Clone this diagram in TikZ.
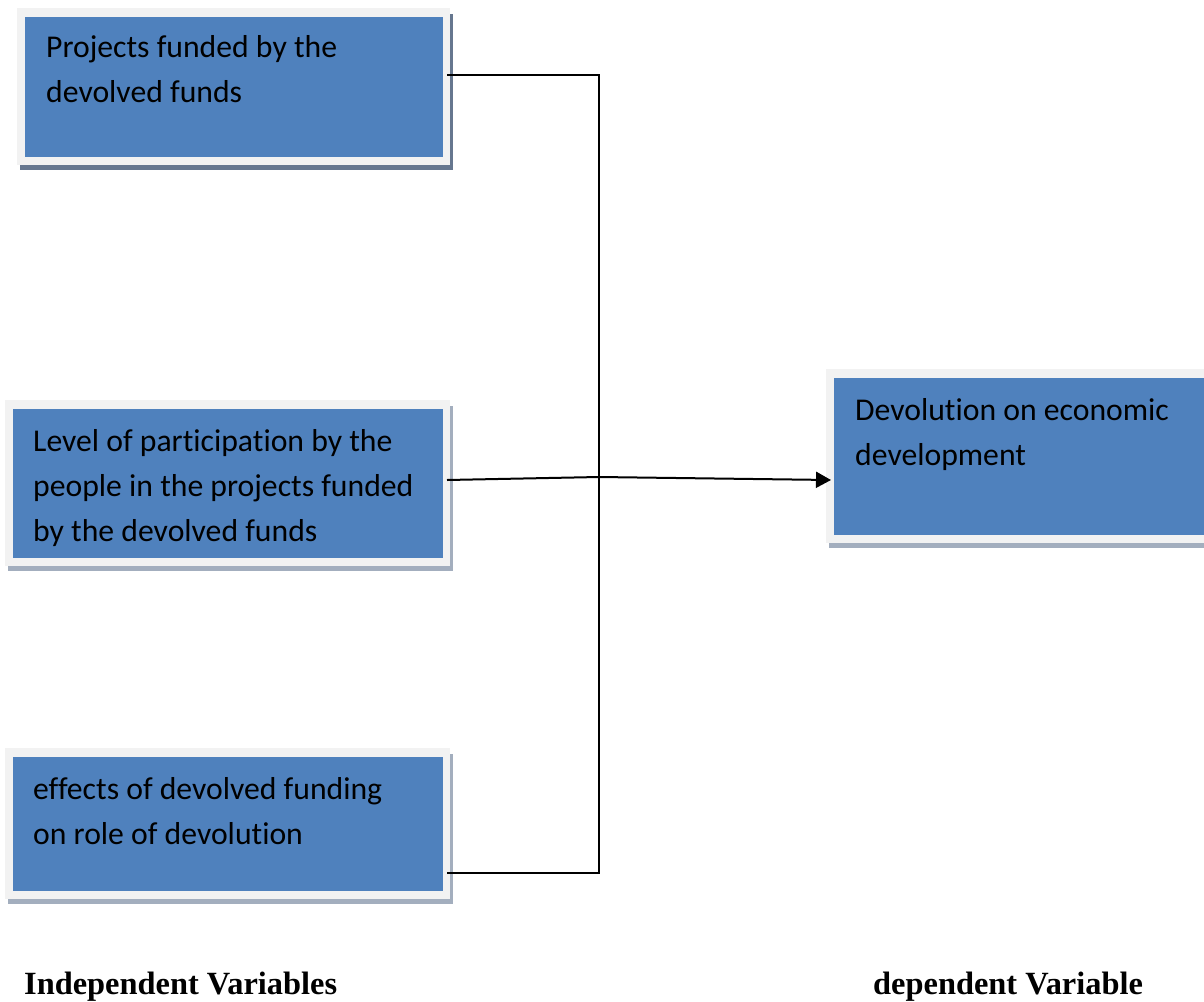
\documentclass[tikz,border=0pt]{standalone}
\usepackage{fontspec}
\setmainfont[Ligatures={NoCommon}]{Carlito}
\newfontfamily\tnr{Liberation Serif}
\usetikzlibrary{arrows.meta,backgrounds,calc}
\definecolor{boxblue}{HTML}{4F81BD}
\definecolor{framegray}{HTML}{F2F2F2}
\definecolor{shadowdark}{HTML}{66778F}
\definecolor{shadowlight}{HTML}{A3AEBE}
\tikzset{
  bluebox/.style={fill=boxblue, draw=none, anchor=north west, inner sep=0pt},
  boxtext/.style={anchor=base west, inner sep=0pt, align=left, font=\fontsize{31.7}{45}\selectfont, text=black},
  lbl/.style={anchor=base west, inner sep=0pt, font=\tnr\bfseries\fontsize{32.4}{38}\selectfont},
  conn/.style={line width=2pt, black},
  arr/.style={conn, -{Triangle[length=15pt,width=16pt]}}
}
\newcommand{\myframe}[2]{%
  \begin{scope}[on background layer]
    \fill[#2] ([shift={(-5,-3)}]#1.north west) rectangle ([shift={(10,13)}]#1.south east);
    \fill[framegray] ([shift={(-8,-9)}]#1.north west) rectangle ([shift={(7,8)}]#1.south east);
  \end{scope}}
\begin{document}
\begin{tikzpicture}[x=1pt,y=-1pt]
\useasboundingbox (0,0) rectangle (1204,1001);
\begin{scope}[on background layer]
\fill[white] (0,0) rectangle (1204,1001);
\end{scope}
% boxes
\node[bluebox, minimum width=418pt, minimum height=140pt] (b1) at (25,17) {};
\node[bluebox, minimum width=430pt, minimum height=149pt] (b2) at (13,409) {};
\node[bluebox, minimum width=430pt, minimum height=134pt] (b3) at (13,757) {};
\node[bluebox, minimum width=380pt, minimum height=157pt] (b4) at (834,378) {};
\myframe{b1}{shadowdark}
\myframe{b2}{shadowlight}
\myframe{b3}{shadowlight}
\myframe{b4}{shadowlight}
% texts (anchor = baseline of last line)
\node[boxtext] (t1) at (46,102) {Projects funded by the\\devolved funds};
\node[boxtext] (t2) at (33,541) {Level of participation by the\\people in the projects funded\\by the devolved funds};
\node[boxtext] (t3) at (33,844) {effects of devolved funding\\on role of devolution};
\node[boxtext] (t4) at (855,465) {Devolution on economic\\development};
% connectors
\coordinate (s1) at (447,75);
\coordinate (s2) at (447,480);
\coordinate (s3) at (447,873);
\coordinate (j1) at (599,75);
\coordinate (j2) at (599,477);
\coordinate (j3) at (599,873);
\coordinate (e4) at (831,480);
\draw[conn] (s1) -- (j1) -- (j3) -- (s3);
\draw[conn] (s2) -- (j2);
\draw[arr] (j2) -- (e4);
% labels
\node[lbl] (l1) at (24,994) {Independent Variables};
\node[lbl] (l2) at (873,994) {dependent Variable};
\end{tikzpicture}
\end{document}
